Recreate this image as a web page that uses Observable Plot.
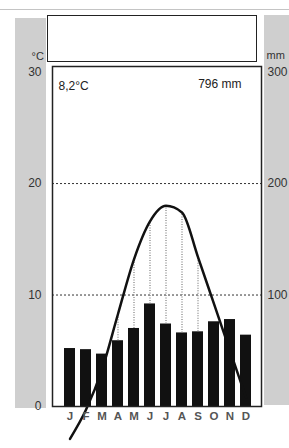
<!DOCTYPE html>
<html><head><meta charset="utf-8">
<script src="https://cdn.jsdelivr.net/npm/d3@7"></script>
<script src="https://cdn.jsdelivr.net/npm/@observablehq/plot@0.6"></script>
<style>
html,body{margin:0;padding:0;background:#fff;}
#wrap{position:relative;width:289px;height:448px;overflow:hidden;font-family:"Liberation Sans",Arial,sans-serif;}
.strip{position:absolute;background:#cfcfcf;}
#topline{position:absolute;left:0;top:9px;width:289px;height:1px;background:#c4c4c4;}
#titlebox{position:absolute;left:47px;top:15px;width:208px;height:45px;border:1.5px solid #222;background:#fff;}
#chart{position:absolute;left:0;top:0;}
</style></head>
<body><div id="wrap">
<div id="topline"></div>
<div class="strip" style="left:15px;top:18px;width:31px;height:390px"></div>
<div class="strip" style="left:264px;top:15px;width:25px;height:390px"></div>
<div id="titlebox"></div>
<div id="chart"></div>
</div>
<script>
const months = ["J","F","M","A","M","J","J","A","S","O","N","D"];
const tempC = [-2.9, -0.3, 3.3, 8.3, 13.2, 16.6, 18.0, 17.4, 13.4, 9.2, 5.0, 0.8];
const precipMm = [52, 51, 47, 59, 70, 92, 74, 66, 67, 76, 78, 64];
const aridIdx = [3, 4, 5, 6, 7, 8];
const meanLabel = ["8,2°C"];
const totalLabel = ["796 mm"];
const tempTicks = [0, 10, 20, 30];
const precipTicks = [100, 200, 300];
const gridLines = [10, 20];
const unitLeft = ["°C"];
const unitRight = ["mm"];

const data = months.map((m, i) => ({i, m, t: tempC[i], p: precipMm[i]}));

const plot = Plot.plot({
  width: 289, height: 448,
  marginLeft: 52, marginRight: 28, marginTop: 66, marginBottom: 42,
  style: {background: "transparent", fontFamily: "'Liberation Sans', Arial, sans-serif", fontSize: "12px", color: "#333"},
  x: {type: "band", domain: d3.range(12), range: [57, 259], padding: 0.3},
  y: {domain: [0, 30.5]},
  marks: [
    Plot.ruleY(gridLines, {stroke: "#333", strokeDasharray: "2,2", strokeWidth: 1}),
    Plot.barY(data, {x: "i", y: d => d.p / 10, fill: "#111"}),
    Plot.ruleX(data.filter(d => aridIdx.includes(d.i)), {x: "i", y1: d => d.p / 10, y2: "t", stroke: "#888", strokeWidth: 1.3, strokeDasharray: "1,1.5"}),
    Plot.line(data, {x: "i", y: "t", curve: "monotone-x", stroke: "#111", strokeWidth: 2.5}),
    Plot.frame({stroke: "#222", strokeWidth: 1.5}),
    Plot.axisY(tempTicks, {anchor: "left", tickSize: 0, tickPadding: 11, label: null, fontSize: 12, fill: "#333"}),
    Plot.axisY(precipTicks.map(v => v / 10), {anchor: "right", tickSize: 0, tickPadding: 6, tickFormat: d => d * 10, label: null, fontSize: 12, fill: "#333"}),
    Plot.axisX(d3.range(12), {tickSize: 0, tickPadding: 5, tickFormat: i => months[i], label: null, fontSize: 11.5, fontWeight: "bold", fill: "#555"}),
    Plot.text(meanLabel, {text: d => d, frameAnchor: "top-left", dx: 6, dy: 15, textAnchor: "start", fontSize: 12, fill: "#222"}),
    Plot.text(totalLabel, {text: d => d, frameAnchor: "top-right", dx: -20, dy: 13, textAnchor: "end", fontSize: 12, fill: "#222"}),
    Plot.text(unitLeft, {text: d => d, frameAnchor: "top-left", dx: -21, dy: -14, fontSize: 11, fill: "#333"}),
    Plot.text(unitRight, {text: d => d, frameAnchor: "top-right", dx: 5, dy: -15, textAnchor: "start", fontSize: 11, fill: "#333"})
  ]
});
document.getElementById("chart").appendChild(plot);
</script>
</body></html>
